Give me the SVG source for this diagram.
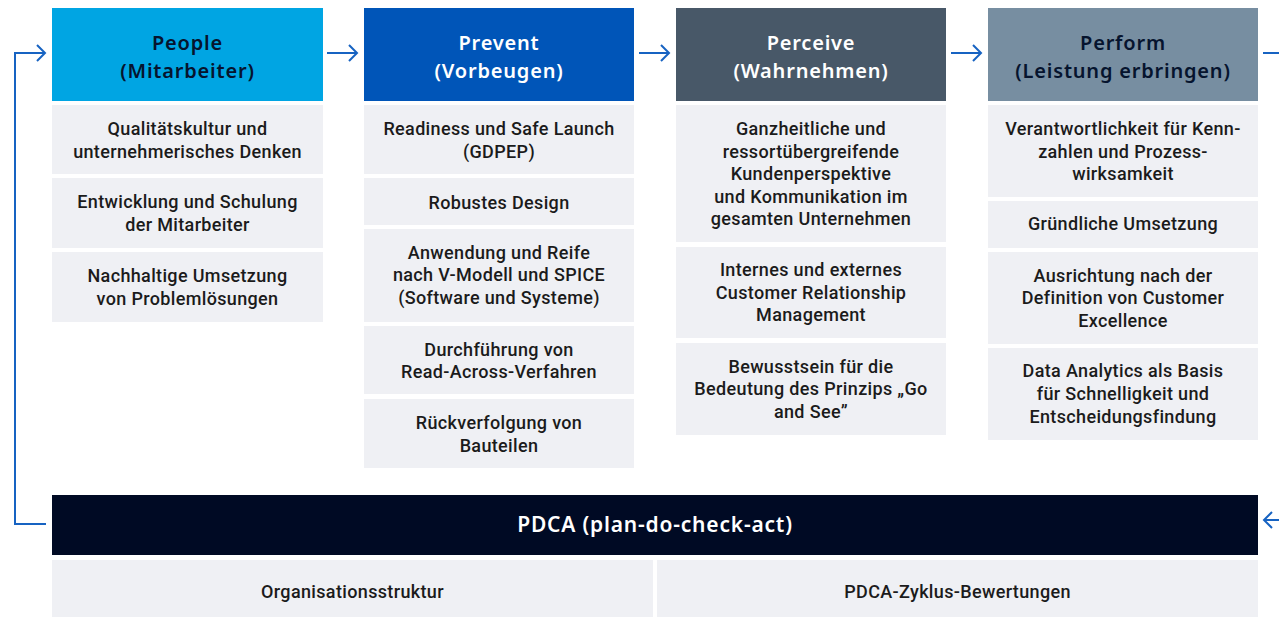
<svg xmlns="http://www.w3.org/2000/svg" width="1279" height="617" viewBox="0 0 1279 617">
<defs>
<style>
.cell{fill:#eff0f4}
.t{font-family:Roboto,"Liberation Sans",Arial,sans-serif;font-weight:500;font-size:18px;fill:#1b1b1b;text-anchor:middle;letter-spacing:0.35px}
.h{font-family:"Noto Sans","DejaVu Sans",sans-serif;font-weight:600;font-size:20px;text-anchor:middle;letter-spacing:0.8px}
.dark{fill:#06142e}
.light{fill:#ffffff}
.con{fill:none;stroke:#1763c2;stroke-width:2}
</style>
</defs>
<rect width="1279" height="617" fill="#ffffff"/>
<g id="connectors">
<path class="con" d="M327 53H357M349 45L357 53L349 61"/>
<path class="con" d="M639 53H669M661 45L669 53L661 61"/>
<path class="con" d="M951 53H981M973 45L981 53L973 61"/>
<path class="con" d="M1263 53H1279"/>
<path class="con" d="M46 524H15V53H45M37 45L45 53L37 61"/>
<path class="con" d="M1279 520H1264M1272 512L1264 520L1272 528"/>
</g>
<g id="people">
<rect x="52" y="8" width="271" height="93" fill="#00a5e3"/>
<text class="h dark" x="187.5" y="50">People</text>
<text class="h dark" x="187.5" y="78">(Mitarbeiter)</text>
<rect class="cell" x="52" y="105" width="271" height="69"/>
<text class="t" x="187.5" y="135">Qualitätskultur und</text>
<text class="t" x="187.5" y="158">unternehmerisches Denken</text>
<rect class="cell" x="52" y="178" width="271" height="70"/>
<text class="t" x="187.5" y="208">Entwicklung und Schulung</text>
<text class="t" x="187.5" y="231">der Mitarbeiter</text>
<rect class="cell" x="52" y="252" width="271" height="70"/>
<text class="t" x="187.5" y="282">Nachhaltige Umsetzung</text>
<text class="t" x="187.5" y="305">von Problemlösungen</text>
</g>
<g id="prevent">
<rect x="364" y="8" width="270" height="93" fill="#0055b8"/>
<text class="h light" x="499" y="50">Prevent</text>
<text class="h light" x="499" y="78">(Vorbeugen)</text>
<rect class="cell" x="364" y="105" width="270" height="69"/>
<text class="t" x="499" y="135">Readiness und Safe Launch</text>
<text class="t" x="499" y="158">(GDPEP)</text>
<rect class="cell" x="364" y="178" width="270" height="47"/>
<text class="t" x="499" y="209">Robustes Design</text>
<rect class="cell" x="364" y="229" width="270" height="93"/>
<text class="t" x="499" y="259">Anwendung und Reife</text>
<text class="t" x="499" y="281">nach V-Modell und SPICE</text>
<text class="t" x="499" y="304">(Software und Systeme)</text>
<rect class="cell" x="364" y="326" width="270" height="68"/>
<text class="t" x="499" y="356">Durchführung von</text>
<text class="t" x="499" y="378">Read-Across-Verfahren</text>
<rect class="cell" x="364" y="399" width="270" height="69"/>
<text class="t" x="499" y="429">Rückverfolgung von</text>
<text class="t" x="499" y="452">Bauteilen</text>
</g>
<g id="perceive">
<rect x="676" y="8" width="270" height="93" fill="#485868"/>
<text class="h light" x="811" y="50">Perceive</text>
<text class="h light" x="811" y="78">(Wahrnehmen)</text>
<rect class="cell" x="676" y="105" width="270" height="137"/>
<text class="t" x="811" y="135">Ganzheitliche und</text>
<text class="t" x="811" y="158">ressortübergreifende</text>
<text class="t" x="811" y="180">Kundenperspektive</text>
<text class="t" x="811" y="203">und Kommunikation im</text>
<text class="t" x="811" y="225">gesamten Unternehmen</text>
<rect class="cell" x="676" y="247" width="270" height="91"/>
<text class="t" x="811" y="276">Internes und externes</text>
<text class="t" x="811" y="299">Customer Relationship</text>
<text class="t" x="811" y="321">Management</text>
<rect class="cell" x="676" y="343" width="270" height="92"/>
<text class="t" x="811" y="373">Bewusstsein für die</text>
<text class="t" x="811" y="395">Bedeutung des Prinzips „Go</text>
<text class="t" x="811" y="418">and See”</text>
</g>
<g id="perform">
<rect x="988" y="8" width="270" height="93" fill="#778ea1"/>
<text class="h dark" x="1123" y="50">Perform</text>
<text class="h dark" x="1123" y="78">(Leistung erbringen)</text>
<rect class="cell" x="988" y="105" width="270" height="92"/>
<text class="t" x="1123" y="135">Verantwortlichkeit für Kenn-</text>
<text class="t" x="1123" y="158">zahlen und Prozess-</text>
<text class="t" x="1123" y="180">wirksamkeit</text>
<rect class="cell" x="988" y="201" width="270" height="47"/>
<text class="t" x="1123" y="230">Gründliche Umsetzung</text>
<rect class="cell" x="988" y="252" width="270" height="92"/>
<text class="t" x="1123" y="282">Ausrichtung nach der</text>
<text class="t" x="1123" y="304">Definition von Customer</text>
<text class="t" x="1123" y="327">Excellence</text>
<rect class="cell" x="988" y="348" width="270" height="92"/>
<text class="t" x="1123" y="377">Data Analytics als Basis</text>
<text class="t" x="1123" y="400">für Schnelligkeit und</text>
<text class="t" x="1123" y="423">Entscheidungsfindung</text>
</g>
<g id="pdca">
<rect x="52" y="495" width="1206" height="60" fill="#000a24"/>
<text class="h light" x="655" y="532" style="font-size:21px">PDCA (plan-do-check-act)</text>
<rect class="cell" x="52" y="560" width="601" height="57"/>
<text class="t" x="352.5" y="598">Organisationsstruktur</text>
<rect class="cell" x="657" y="560" width="601" height="57"/>
<text class="t" x="957.5" y="598">PDCA-Zyklus-Bewertungen</text>
</g>
</svg>
